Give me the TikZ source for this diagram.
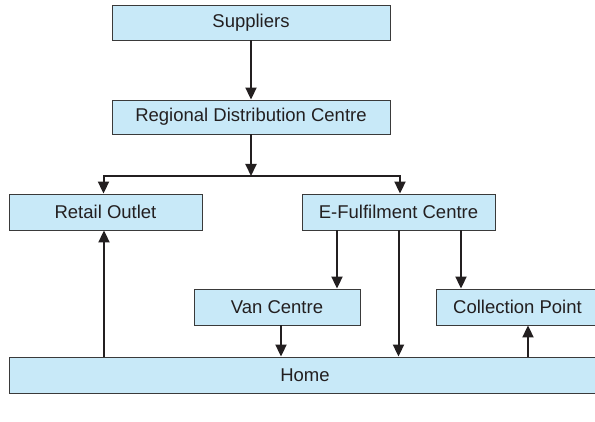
\documentclass[tikz,border=0pt]{standalone}
\usepackage{fontspec}
\setmainfont{Liberation Sans}
\usetikzlibrary{arrows.meta, positioning}
\definecolor{boxblue}{HTML}{C8E9F8}
\definecolor{boxline}{HTML}{3A3A3A}
\definecolor{textdark}{HTML}{231F20}
\tikzset{
  % Flow boxes
  flowbox/.style={
    draw=boxline, fill=boxblue, line width=0.9pt,
    minimum height=36pt, inner sep=2pt,
    font=\fontsize{18.5}{21}\selectfont, text=textdark,
  },
  % Arrows
  arr/.style={-{Triangle[length=12pt, width=11pt]}, line width=2pt, textdark},
}
\begin{document}
\begin{tikzpicture}[x=1pt, y=1pt]
    \useasboundingbox (0,0) rectangle (595,-422);
    \node[flowbox, minimum width=278pt, minimum height=35pt] (sup) at (251,-22.5)
      {Suppliers};
    \node[flowbox, minimum width=278pt, minimum height=34pt] (rdc) at (251,-117)
      {Regional Distribution Centre};
    \node[flowbox, minimum width=193pt] (retail) at (105.5,-212)
      {Retail Outlet};
    \node[flowbox, minimum width=193pt] (efc) at (398.5,-212)
      {E-Fulfilment Centre};
    \node[flowbox, minimum width=166pt] (van) at (277,-307)
      {Van Centre};
    \node[flowbox, minimum width=162pt] (coll) at (517.5,-307)
      {Collection Point};
    \node[flowbox, minimum width=592pt] (home) at (305,-375)
      {Home};
    \coordinate (bus) at (251,-176);
    \draw[arr] (sup) -- (rdc);
    \draw[arr] (rdc) -- (bus);
    \draw[arr] (bus) -| ([xshift=-2pt]retail.north);
    \draw[arr] (bus) -| ([xshift=1.5pt]efc.north);
    \draw[arr] ([xshift=-61.5pt]efc.south) -- ([xshift=60pt]van.north);
    \draw[arr] ([xshift=62.5pt]efc.south) -- ([xshift=-56.5pt]coll.north);
    \draw[arr] (efc.south) -- (efc.south |- home.north);
    \draw[arr] ([xshift=4pt]van.south) -- ([xshift=4pt]van.south |- home.north);
    \draw[arr] ([xshift=-1.5pt]retail.south |- home.north) -- ([xshift=-1.5pt]retail.south);
    \draw[arr] ([xshift=10.5pt]coll.south |- home.north) -- ([xshift=10.5pt]coll.south);
  \end{tikzpicture}
\end{document}
